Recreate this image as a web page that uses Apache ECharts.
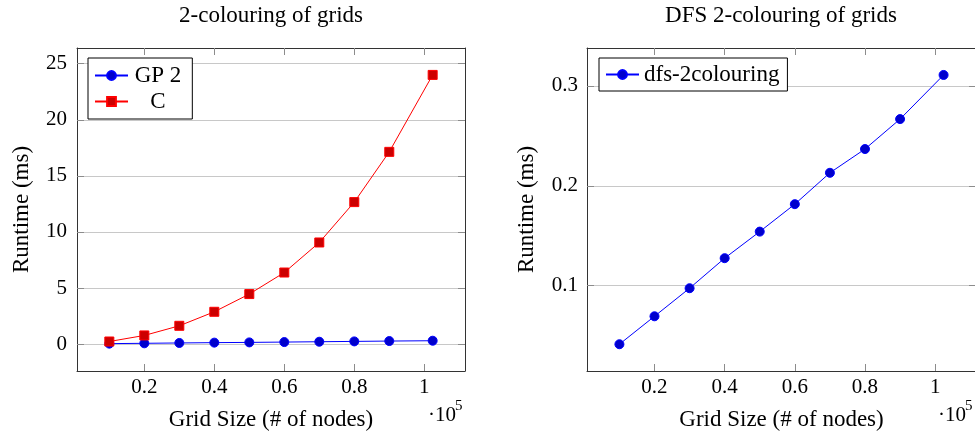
<!DOCTYPE html>
<html>
<head>
<meta charset="utf-8">
<script src="https://cdn.jsdelivr.net/npm/echarts@6/dist/echarts.min.js"></script>
<style>
  html, body { margin: 0; padding: 0; background: #fff; }
  #chart { width: 975px; height: 432px; }
</style>
</head>
<body>
<div id="chart"></div>
<script>
// Grid sizes in units of 10^5 nodes
const gridSizes = [0.1, 0.2, 0.3, 0.4, 0.5, 0.6, 0.7, 0.8, 0.9, 1.024];
// Runtimes in ms
const gp2Runtime = [0.04, 0.07, 0.1, 0.13, 0.15, 0.18, 0.21, 0.24, 0.27, 0.3];
const cRuntime = [0.23, 0.77, 1.63, 2.88, 4.46, 6.38, 9.06, 12.66, 17.14, 24.0];
const dfsRuntime = [0.0413, 0.0693, 0.0974, 0.1275, 0.1541, 0.1816, 0.213, 0.2368, 0.2668, 0.311];

const xTicks = [0.2, 0.4, 0.6, 0.8, 1];
const leftYTicks = [0, 5, 10, 15, 20, 25];
const rightYTicks = [0.1, 0.2, 0.3];

const FONT = '"Liberation Serif", "Times New Roman", serif';
const FRAME = '#333333';
const TICK = '#8c8c8c';
const GRIDLINE = '#c8c8c8';

const pair = (xs, ys) => xs.map((x, i) => [x, ys[i]]);

function xAxis(gridIndex, position, withLabels) {
  return {
    type: 'value',
    gridIndex,
    position,
    min: 0.0076,
    max: 1.1164,
    axisLine: { show: true, onZero: false, lineStyle: { color: FRAME, width: 1 } },
    axisTick: { show: true, inside: true, length: 7, customValues: xTicks,
                lineStyle: { color: TICK, width: 1 } },
    axisLabel: { show: withLabels, customValues: xTicks, margin: 6,
                 fontFamily: FONT, fontSize: 21, color: '#000' },
    splitLine: { show: false },
    name: withLabels ? 'Grid Size (# of nodes)' : '',
    nameLocation: 'middle',
    nameGap: 37,
    nameTextStyle: { fontFamily: FONT, fontSize: 23, color: '#000' }
  };
}

function yAxis(gridIndex, position, withLabels, min, max, ticks, nameGap, margin) {
  return {
    type: 'value',
    gridIndex,
    position,
    min,
    max,
    axisLine: { show: true, onZero: false, lineStyle: { color: FRAME, width: 1 } },
    axisTick: { show: true, inside: true, length: 7, customValues: ticks,
                lineStyle: { color: TICK, width: 1 } },
    axisLabel: { show: withLabels, customValues: ticks, margin,
                 fontFamily: FONT, fontSize: 21, color: '#000' },
    splitLine: { show: withLabels, lineStyle: { color: GRIDLINE, width: 1 } },
    name: withLabels ? 'Runtime (ms)' : '',
    nameLocation: 'middle',
    nameGap,
    nameTextStyle: { fontFamily: FONT, fontSize: 23, color: '#000' }
  };
}

function lineSeries(name, xi, yi, data, symbol, line, fill) {
  return {
    name,
    type: 'line',
    xAxisIndex: xi,
    yAxisIndex: yi,
    data,
    symbol,
    symbolSize: 9,
    showSymbol: true,
    lineStyle: { color: line, width: 1 },
    itemStyle: { color: fill, borderColor: line, borderWidth: 1 },
    emphasis: { disabled: true },
    animation: false
  };
}

const legendText = {
  fontFamily: FONT,
  fontSize: 23,
  color: '#000',
  rich: { c: { fontFamily: FONT, fontSize: 23, color: '#000', width: 50, align: 'center' } }
};

const chart = echarts.init(document.getElementById('chart'));
chart.setOption({
  animation: false,
  backgroundColor: '#fff',
  grid: [
    { left: 77, top: 48, width: 388, height: 323, outerBoundsMode: 'none', containLabel: false },
    { left: 587, top: 48, width: 389, height: 323, outerBoundsMode: 'none', containLabel: false }
  ],
  xAxis: [
    xAxis(0, 'bottom', true),
    xAxis(0, 'top', false),
    xAxis(1, 'bottom', true),
    xAxis(1, 'top', false)
  ],
  yAxis: [
    yAxis(0, 'left', true, -2.4, 26.4, leftYTicks, 44, 10),
    yAxis(0, 'right', false, -2.4, 26.4, leftYTicks, 0, 0),
    yAxis(1, 'left', true, 0.0145, 0.338, rightYTicks, 49, 9),
    yAxis(1, 'right', false, 0.0145, 0.338, rightYTicks, 0, 0)
  ],
  legend: [
    {
      data: ['GP 2', 'C'],
      orient: 'vertical',
      left: 88, top: 58,
      padding: [6, 11, 6, 6],
      itemWidth: 33, itemHeight: 11, itemGap: 3,
      borderColor: '#000', borderWidth: 1, borderRadius: 0,
      backgroundColor: '#fff',
      selectedMode: false,
      formatter: n => '{c|' + n + '}',
      textStyle: legendText
    },
    {
      data: ['dfs-2colouring'],
      orient: 'vertical',
      left: 599, top: 58,
      padding: [5, 8, 5, 6],
      itemWidth: 33, itemHeight: 11,
      borderColor: '#000', borderWidth: 1, borderRadius: 0,
      backgroundColor: '#fff',
      selectedMode: false,
      textStyle: { fontFamily: FONT, fontSize: 23, color: '#000' }
    }
  ],
  graphic: [
    { type: 'text', x: 271, y: 16, style: { text: '2-colouring of grids', font: '23px ' + FONT,
      fill: '#000', align: 'center', verticalAlign: 'middle' } },
    { type: 'text', x: 781, y: 16, style: { text: 'DFS 2-colouring of grids', font: '23px ' + FONT,
      fill: '#000', align: 'center', verticalAlign: 'middle' } },
    { type: 'text', x: 428, y: 415, style: { text: '·10', font: '21px ' + FONT,
      fill: '#000', align: 'left', verticalAlign: 'middle' } },
    { type: 'text', x: 455, y: 406, style: { text: '5', font: '15px ' + FONT,
      fill: '#000', align: 'left', verticalAlign: 'middle' } },
    { type: 'text', x: 938, y: 415, style: { text: '·10', font: '21px ' + FONT,
      fill: '#000', align: 'left', verticalAlign: 'middle' } },
    { type: 'text', x: 965, y: 406, style: { text: '5', font: '15px ' + FONT,
      fill: '#000', align: 'left', verticalAlign: 'middle' } }
  ],
  series: [
    lineSeries('GP 2', 0, 0, pair(gridSizes, gp2Runtime), 'circle', '#0000ff', '#0000cc'),
    lineSeries('C', 0, 0, pair(gridSizes, cRuntime), 'rect', '#ff0000', '#cc0000'),
    lineSeries('dfs-2colouring', 2, 2, pair(gridSizes, dfsRuntime), 'circle', '#0000ff', '#0000cc')
  ]
});
</script>
</body>
</html>
